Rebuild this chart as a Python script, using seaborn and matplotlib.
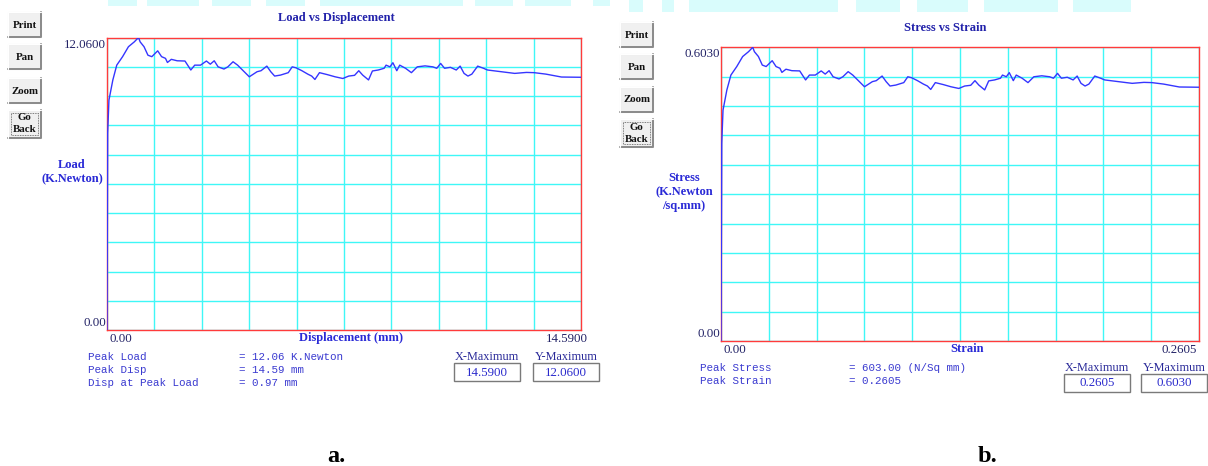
import numpy as np
import matplotlib
matplotlib.use("Agg")
import matplotlib.pyplot as plt
from matplotlib.patches import Rectangle
import seaborn as sns
import pandas as pd

# ---------------- data ----------------
displacement = [0.0, 0.02, 0.06, 0.18, 0.30, 0.48, 0.66, 0.84, 0.97, 1.02, 1.14, 1.26, 1.38, 1.56,
                1.68, 1.80, 1.86, 1.98, 2.16, 2.40, 2.58, 2.70, 2.88, 3.06, 3.18, 3.30, 3.42, 3.60,
                3.72, 3.88, 4.02, 4.20, 4.38, 4.62, 4.74, 4.92, 5.04, 5.16, 5.34, 5.58, 5.70, 5.82,
                6.00, 6.18, 6.30, 6.40, 6.54, 6.78, 7.02, 7.26, 7.44, 7.62, 7.75, 7.87, 8.05, 8.17,
                8.35, 8.53, 8.59, 8.71, 8.80, 8.92, 9.01, 9.19, 9.37, 9.55, 9.79, 10.03, 10.15,
                10.27, 10.39, 10.57, 10.75, 10.87, 10.99, 11.11, 11.23, 11.41, 11.59, 11.71, 12.31,
                12.55, 12.91, 13.15, 13.51, 13.99, 14.59]
load = [0.0, 8.11, 9.48, 10.31, 10.92, 11.27, 11.68, 11.88, 12.06, 11.88, 11.68, 11.33, 11.27,
        11.51, 11.27, 11.20, 11.03, 11.16, 11.10, 11.09, 10.72, 10.92, 10.92, 11.09, 10.96, 11.10,
        10.85, 10.76, 10.85, 11.06, 10.92, 10.68, 10.44, 10.65, 10.69, 10.88, 10.65, 10.47, 10.51,
        10.61, 10.85, 10.81, 10.69, 10.55, 10.47, 10.33, 10.61, 10.53, 10.44, 10.37, 10.47, 10.50,
        10.69, 10.51, 10.31, 10.68, 10.72, 10.79, 10.92, 10.85, 11.02, 10.69, 10.92, 10.79, 10.61,
        10.85, 10.89, 10.85, 10.79, 10.99, 10.79, 10.83, 10.72, 10.88, 10.58, 10.47, 10.55, 10.88,
        10.79, 10.72, 10.62, 10.58, 10.62, 10.61, 10.55, 10.43, 10.42]
strain = [0.0, 0.0004, 0.0011, 0.0032, 0.0054, 0.0086, 0.0118, 0.0150, 0.0173, 0.0182, 0.0204,
          0.0225, 0.0246, 0.0279, 0.0300, 0.0321, 0.0332, 0.0354, 0.0386, 0.0429, 0.0461, 0.0482,
          0.0514, 0.0546, 0.0568, 0.0589, 0.0611, 0.0643, 0.0664, 0.0693, 0.0718, 0.0750, 0.0782,
          0.0825, 0.0846, 0.0878, 0.0900, 0.0921, 0.0953, 0.0996, 0.1018, 0.1039, 0.1071, 0.1103,
          0.1125, 0.1143, 0.1168, 0.1211, 0.1253, 0.1296, 0.1328, 0.1361, 0.1384, 0.1405, 0.1437,
          0.1459, 0.1491, 0.1523, 0.1534, 0.1555, 0.1571, 0.1593, 0.1609, 0.1641, 0.1673, 0.1705,
          0.1748, 0.1791, 0.1812, 0.1834, 0.1855, 0.1887, 0.1919, 0.1941, 0.1962, 0.1984, 0.2005,
          0.2037, 0.2069, 0.2091, 0.2198, 0.2241, 0.2305, 0.2348, 0.2412, 0.2498, 0.2605]
stress = [0.0, 0.4055, 0.474, 0.5155, 0.546, 0.5635, 0.584, 0.594, 0.603, 0.594, 0.584, 0.5665,
          0.5635, 0.5755, 0.5635, 0.560, 0.5515, 0.558, 0.555, 0.5545, 0.536, 0.546, 0.546, 0.5545,
          0.548, 0.555, 0.5425, 0.538, 0.5425, 0.553, 0.546, 0.534, 0.522, 0.5325, 0.5345, 0.544,
          0.5325, 0.5235, 0.5255, 0.5305, 0.5425, 0.5405, 0.5345, 0.5275, 0.5235, 0.5165, 0.5305,
          0.5265, 0.522, 0.5185, 0.5235, 0.525, 0.5345, 0.5255, 0.5155, 0.534, 0.536, 0.5395, 0.546,
          0.5425, 0.551, 0.5345, 0.546, 0.5395, 0.5305, 0.5425, 0.5445, 0.5425, 0.5395, 0.5495,
          0.5395, 0.5415, 0.536, 0.544, 0.529, 0.5235, 0.5275, 0.544, 0.5395, 0.536, 0.531, 0.529,
          0.531, 0.5305, 0.5275, 0.5215, 0.521]

x_max = [14.59, 0.2605]
y_max = [12.06, 0.603]
x_tick_labels = [["0.00", "14.5900"], ["0.00", "0.2605"]]
y_tick_labels = [["0.00", "12.0600"], ["0.00", "0.6030"]]
titles = ["Load vs Displacement", "Stress vs Strain"]
x_labels = ["Displacement (mm)", "Strain"]
y_labels = ["Load\n(K.Newton)", "Stress\n(K.Newton\n/sq.mm)"]
info_keys = [["Peak Load", "Peak Disp", "Disp at Peak Load"], ["Peak Stress", "Peak Strain"]]
info_vals = [["= 12.06 K.Newton", "= 14.59 mm", "= 0.97 mm"], ["= 603.00 (N/Sq mm)", "= 0.2605"]]
box_values = [["14.5900", "12.0600"], ["0.2605", "0.6030"]]
box_titles = ["X-Maximum", "Y-Maximum"]
buttons = ["Print", "Pan", "Zoom", ["Go", "Back"]]
panel_letters = ["a.", "b."]

# ---------------- styling ----------------
sns.set_style("white")
plt.rcParams["font.family"] = ["Liberation Serif", "DejaVu Serif"]

W, H = 1208, 466
fig = plt.figure(figsize=(W / 100, H / 100), dpi=100)
fig.patch.set_facecolor("white")

bg = fig.add_axes([0, 0, 1, 1])
bg.set_xlim(0, W)
bg.set_ylim(H, 0)
bg.axis("off")
bg.set_zorder(0)

# faint cyan strips at the very top (remnants of a cropped toolbar)
strips = [(108, 137, 6), (147, 199, 6), (212, 251, 6), (266, 305, 6), (320, 463, 6),
          (475, 513, 6), (525, 571, 6), (593, 610, 6), (629, 643, 12), (662, 674, 12),
          (689, 838, 12), (856, 900, 12), (917, 968, 12), (984, 1058, 12), (1073, 1131, 12)]
for x0, x1, h in strips:
    bg.add_patch(Rectangle((x0, 0), x1 - x0, h, facecolor="#d9fcfc", edgecolor="none"))

# pixel layouts of the two panels
plots = [dict(l=107, t=37.5, r=581, b=330, title_y=18, title_x=336,
              btn_x=8, btn_y=[12, 44, 78, 110], ylab_x=72, ylab_y=172, ylab_ha="center",
              xt_right=588, info_x=88, info_val_x=239, info_y=357,
              box_x=[454, 533], box_y=363, letter_x=336),
         dict(l=721, t=47.3, r=1199, b=341, title_y=28, title_x=945,
              btn_x=620, btn_y=[22, 54, 87, 119], ylab_x=684, ylab_y=192, ylab_ha="center",
              xt_right=1197, info_x=700, info_val_x=849, info_y=368,
              box_x=[1064, 1141], box_y=374, letter_x=988)]

xs = [displacement, strain]
ys = [load, stress]

title_col = "#2222aa"
lab_col = "#2a2ad6"
tick_col = "#222266"
mono_col = "#3a3ad0"

for i, p in enumerate(plots):
    ax = fig.add_axes([p["l"] / W, 1 - p["b"] / H, (p["r"] - p["l"]) / W, (p["b"] - p["t"]) / H])
    ax.set_zorder(1)
    df = pd.DataFrame({"x": xs[i], "y": ys[i]})
    sns.lineplot(data=df, x="x", y="y", ax=ax, color="#3535ff", lw=1.0,
                 estimator=None, sort=False, zorder=3)
    ax.set_xlim(0, x_max[i])
    ax.set_ylim(0, y_max[i])
    ax.set_xticks(np.linspace(0, x_max[i], 11))
    ax.set_yticks(np.linspace(0, y_max[i], 11))
    ax.set_xticklabels([])
    ax.set_yticklabels([])
    ax.tick_params(length=0)
    ax.grid(True, color="#3ff7f7", lw=1.0)
    ax.set_axisbelow(True)
    for s in ax.spines.values():
        s.set_visible(True)
        s.set_color("#ff3b3b")
        s.set_linewidth(1.0)
    ax.set_xlabel("")
    ax.set_ylabel("")

    # title
    bg.text(p["title_x"], p["title_y"], titles[i], ha="center", va="center",
            fontsize=9, fontweight="bold", color=title_col)
    # y tick labels
    bg.text(p["l"] - 1, p["t"] + 1, y_tick_labels[i][1], ha="right", va="top",
            fontsize=9.3, color=tick_col)
    bg.text(p["l"] - 1, p["b"] - 1, y_tick_labels[i][0], ha="right", va="bottom",
            fontsize=9.3, color=tick_col)
    # x tick labels
    bg.text(p["l"] + 3, p["b"] + 3, x_tick_labels[i][0], ha="left", va="top",
            fontsize=9.3, color=tick_col)
    bg.text(p["xt_right"], p["b"] + 3, x_tick_labels[i][1], ha="right", va="top",
            fontsize=9.3, color=tick_col)
    # x label
    bg.text((p["l"] + p["r"]) / 2 + 7, p["b"] + 2, x_labels[i], ha="center", va="top",
            fontsize=9, fontweight="bold", color=lab_col)
    # y label
    bg.text(p["ylab_x"], p["ylab_y"], y_labels[i], ha=p["ylab_ha"], va="center",
            multialignment="center", fontsize=9, fontweight="bold", color=lab_col,
            linespacing=1.25)

    # buttons
    for j, name in enumerate(buttons):
        by = p["btn_y"][j]
        bh = 28 if j == 3 else 25
        bw = 33
        bx = p["btn_x"]
        bg.add_patch(Rectangle((bx, by), bw, bh, facecolor="#f0f0f0",
                               edgecolor="#e6e6e6", lw=0.8))
        bg.plot([bx + bw, bx + bw, bx], [by, by + bh, by + bh], color="#8a8a8a", lw=1.4)
        bg.plot([bx, bx, bx + bw], [by + bh, by, by], color="#ffffff", lw=0.8)
        if isinstance(name, list):
            bg.add_patch(Rectangle((bx + 3, by + 3), bw - 6, bh - 6, facecolor="none",
                                   edgecolor="#555555", lw=0.6, ls=(0, (1, 1))))
            bg.text(bx + bw / 2, by + 8, name[0], ha="center", va="center", fontsize=7.8,
                    fontweight="bold", color="#111111")
            bg.text(bx + bw / 2, by + 20, name[1], ha="center", va="center", fontsize=7.8,
                    fontweight="bold", color="#111111")
        else:
            bg.text(bx + bw / 2, by + bh / 2 + 0.5, name, ha="center", va="center",
                    fontsize=7.8, fontweight="bold", color="#111111")

    # info text (monospace)
    for j, (k, v) in enumerate(zip(info_keys[i], info_vals[i])):
        yy = p["info_y"] + j * 13.2
        bg.text(p["info_x"], yy, k, ha="left", va="center", fontsize=7.8,
                family=["Liberation Mono", "DejaVu Sans Mono"], color=mono_col)
        bg.text(p["info_val_x"], yy, v, ha="left", va="center", fontsize=7.8,
                family=["Liberation Mono", "DejaVu Sans Mono"], color=mono_col)

    # X-Maximum / Y-Maximum boxes
    for j in range(2):
        bx = p["box_x"][j]
        bg.add_patch(Rectangle((bx, p["box_y"]), 66, 18, facecolor="white",
                               edgecolor="#7a7a7a", lw=1.0))
        bg.text(bx + 33, p["box_y"] + 9.5, box_values[i][j], ha="center", va="center",
                fontsize=9.3, color="#2a2acc")
        bg.text(bx + 33, p["box_y"] - 6, box_titles[j], ha="center", va="center",
                fontsize=8.8, color="#2a2a99")

    # panel letter
    bg.text(p["letter_x"], 457, panel_letters[i], ha="center", va="center",
            fontsize=17.5, fontweight="bold", color="black")

fig.savefig("out.png", dpi=100, facecolor="white")
